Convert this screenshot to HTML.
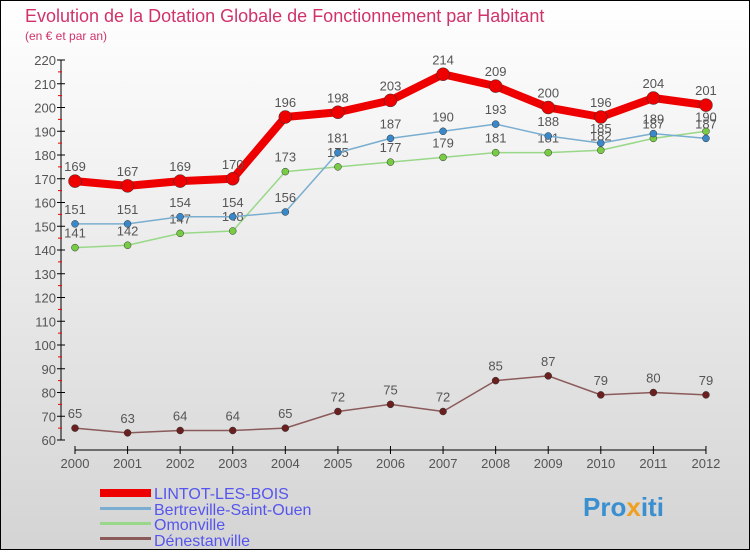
<!DOCTYPE html>
<html><head><meta charset="utf-8"><style>
body{margin:0;width:750px;height:550px;overflow:hidden;font-family:"Liberation Sans",sans-serif}
</style></head><body>
<svg width="750" height="550" xmlns="http://www.w3.org/2000/svg">
<defs><linearGradient id="bg" x1="0" y1="0" x2="0" y2="1"><stop offset="0" stop-color="#ffffff"/><stop offset="1" stop-color="#d4d4d4"/></linearGradient></defs>
<rect x="0.5" y="0.5" width="749" height="549" fill="url(#bg)" stroke="#000"/>
<text x="25" y="22" font-size="18" fill="#d0336a">Evolution de la Dotation Globale de Fonctionnement par Habitant</text>
<text x="25" y="40" font-size="12" fill="#d0336a">(en € et par an)</text>
<g id="axes"></g>
<g id="series"></g>
<g>
<rect x="100" y="489" width="51" height="8" fill="#e00"/>
<text x="154" y="499" font-size="16" fill="#5555ee">LINTOT-LES-BOIS</text>
<rect x="100" y="507" width="51" height="3" fill="#7aaed0"/>
<text x="154" y="515" font-size="16" fill="#5555ee">Bertreville-Saint-Ouen</text>
<rect x="100" y="522" width="51" height="3" fill="#99d888"/>
<text x="154" y="530" font-size="16" fill="#5555ee">Omonville</text>
<rect x="100" y="537" width="51" height="3" fill="#8b5a5a"/>
<text x="154" y="546" font-size="16" fill="#5555ee">Dénestanville</text>
</g>
<text x="583" y="516" font-size="26" font-weight="bold" fill="#3a8fd0">Pro<tspan fill="#f0a020">x</tspan>iti</text>
</svg>
<script>
const years=[2000,2001,2002,2003,2004,2005,2006,2007,2008,2009,2010,2011,2012];
const lintot=[169,167,169,170,196,198,203,214,209,200,196,204,201];
const bertreville=[151,151,154,154,156,181,187,190,193,188,185,189,187];
const omonville=[141,142,147,148,173,175,177,179,181,181,182,187,190];
const denestanville=[65,63,64,64,65,72,75,72,85,87,79,80,79];
const yTicks=[60,70,80,90,100,110,120,130,140,150,160,170,180,190,200,210,220];
const NS='http://www.w3.org/2000/svg';
const X=i=>75+i*52.58;
const Y=v=>440-(v-60)*2.375;
function mk(t,a,p){const e=document.createElementNS(NS,t);for(const k in a)e.setAttribute(k,a[k]);p.appendChild(e);return e;}
const ax=document.getElementById('axes');
mk('line',{x1:61,y1:60,x2:61,y2:440,stroke:'#000'},ax);
mk('line',{x1:75,y1:450,x2:706,y2:450,stroke:'#000'},ax);
yTicks.forEach(v=>{
  mk('line',{x1:57,y1:Y(v),x2:65,y2:Y(v),stroke:'#000'},ax);
  if(v<220)mk('line',{x1:58,y1:Y(v+5),x2:62,y2:Y(v+5),stroke:'#e00'},ax);
  const t=mk('text',{x:56,y:Y(v)+5,'font-size':13,fill:'#555','text-anchor':'end'},ax);
  
  
  t.textContent=v;
});
years.forEach((y,i)=>{
  mk('line',{x1:X(i),y1:446,x2:X(i),y2:454,stroke:'#000'},ax);
  const t=mk('text',{x:X(i),y:468,'font-size':13,fill:'#555','text-anchor':'middle'},ax);
  
  
  t.textContent=y;
});
const sg=document.getElementById('series');
function draw(name,vals,color,w,r,dot){
  const g=mk('g',{},sg);
  
  
  mk('polyline',{points:vals.map((v,i)=>X(i)+','+Y(v)).join(' '),fill:'none',stroke:color,'stroke-width':w,'stroke-linejoin':'round'},g);
  vals.forEach((v,i)=>{
    const c=mk('circle',{cx:X(i),cy:Y(v),r:r,fill:dot,stroke:'#333','stroke-width':0.5},g);
    
    
    const t=mk('text',{x:X(i),y:Y(v)-10,'font-size':13,fill:'#555','text-anchor':'middle'},g);
    
    
    t.textContent=v;
  });
}
draw('denestanville',denestanville,'#8b5a5a',1.5,3.5,'#6b1f1f');
draw('omonville',omonville,'#99d888',1.5,3.5,'#77cc44');
draw('bertreville',bertreville,'#7aaed0',1.5,3.5,'#3a88c8');
draw('lintot',lintot,'#e00',8,6.5,'#e00');
</script>
</body></html>
